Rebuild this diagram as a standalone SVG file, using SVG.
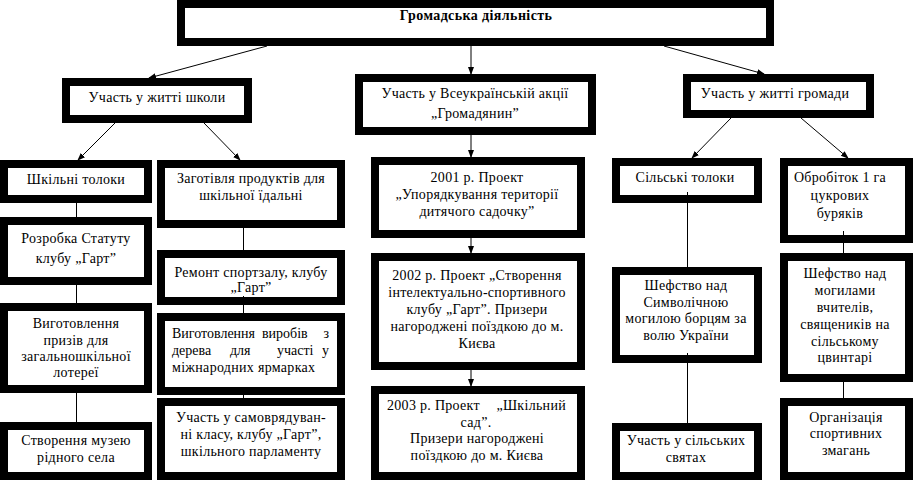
<svg xmlns="http://www.w3.org/2000/svg" width="914" height="480" viewBox="0 0 914 480">
<style>
.b{fill:#fff;stroke:#000;stroke-width:8}
text{font-family:"Liberation Serif","Times New Roman",serif;font-size:14px;fill:#000;letter-spacing:0.3px}
.c{text-anchor:middle}
.e{text-anchor:end}
.j{letter-spacing:0}
.t{font-weight:bold;font-size:14px;letter-spacing:0.4px}
.l{stroke:#000;stroke-width:1;fill:none}
.a{marker-end:url(#ah)}
</style>
<defs>
<marker id="ah" markerUnits="userSpaceOnUse" markerWidth="8" markerHeight="8" viewBox="0 0 8 8" refX="7" refY="4" orient="auto">
<path d="M0,1 L8,4 L0,7 z" fill="#000"/>
</marker>
</defs>
<rect width="914" height="480" fill="#fff"/>
<g id="n-top"><rect class="b" x="181" y="4" width="589" height="38"/><text class="c t" x="476" y="20">Громадська діяльність</text></g>
<g id="n-school"><rect class="b" x="66" y="82" width="182" height="37"/><text class="c" x="157" y="102">Участь у житті школи</text></g>
<g id="n-vseukr"><rect class="b" x="359" y="78" width="233" height="53"/><text class="c" x="475" y="98">Участь у Всеукраїнській акції</text><text class="c" x="475" y="118">„Громадянин”</text></g>
<g id="n-hromada"><rect class="b" x="687" y="78" width="183" height="36"/><text class="c" x="775" y="98">Участь у житті громади</text></g>
<g id="n-toloky"><rect class="b" x="4" y="164" width="144" height="35"/><text class="c" x="76" y="184">Шкільні толоки</text></g>
<g id="n-zahot"><rect class="b" x="161" y="164" width="180" height="60"/><text class="c" x="251" y="183">Заготівля продуктів для</text><text class="c" x="251" y="200">шкільної їдальні</text></g>
<g id="n-rozrobka"><rect class="b" x="4" y="221" width="144" height="60"/><text class="c" x="76" y="243">Розробка Статуту</text><text class="c" x="76" y="263">клубу „Гарт”</text></g>
<g id="n-remont"><rect class="b" x="161" y="254" width="180" height="47"/><text class="c" x="251" y="277">Ремонт спортзалу, клубу</text><text class="c" x="251" y="292">„Гарт”</text></g>
<g id="n-pryzy"><rect class="b" x="4" y="307" width="144" height="82"/><text class="c" x="76" y="328">Виготовлення</text><text class="c" x="76" y="345">призів для</text><text class="c" x="76" y="361">загальношкільної</text><text class="c" x="76" y="377">лотереї</text></g>
<g id="n-muzei"><rect class="b" x="4" y="426" width="144" height="50"/><text class="c" x="76" y="445">Створення музею</text><text class="c" x="76" y="462">рідного села</text></g>
<g id="n-vyroby"><rect class="b" x="161" y="317" width="180" height="74"/>
<text class="j" x="172" y="338">Виготовлення</text><text class="j" x="262" y="338">виробів</text><text class="e j" x="329" y="338">з</text>
<text class="j" x="172" y="355">дерева</text><text class="j" x="230" y="355">для</text><text class="j" x="277" y="355">участі</text><text class="e j" x="329" y="355">у</text>
<text x="172" y="372">міжнародних ярмарках</text></g>
<g id="n-samovr"><rect class="b" x="161" y="402" width="180" height="74"/><text class="c" x="251" y="422">Участь у самоврядуван-</text><text class="c" x="251" y="439">ні класу, клубу „Гарт”,</text><text class="c" x="251" y="456">шкільного парламенту</text></g>
<g id="n-2001"><rect class="b" x="375" y="161" width="206" height="73"/><text class="c" x="477" y="182">2001 р. Проект</text><text class="c" x="477" y="199">„Упорядкування території</text><text class="c" x="477" y="216">дитячого садочку”</text></g>
<g id="n-2002"><rect class="b" x="375" y="257" width="206" height="109"/><text class="c" x="477" y="280">2002 р. Проект „Створення</text><text class="c" x="477" y="297">інтелектуально-спортивного</text><text class="c" x="477" y="314">клубу  „Гарт”. Призери</text><text class="c" x="477" y="331">нагороджені поїздкою до м.</text><text class="c" x="477" y="348">Києва</text></g>
<g id="n-2003"><rect class="b" x="375" y="390" width="206" height="86"/><text x="387" y="410">2003 р. Проект</text><text class="e" x="566" y="410">„Шкільний</text><text class="c" x="476" y="427">сад”.</text><text class="c" x="477" y="443">Призери нагороджені</text><text class="c" x="477" y="460">поїздкою до м. Києва</text></g>
<g id="n-silski"><rect class="b" x="616" y="162" width="142" height="37"/><text class="c" x="685" y="182">Сільські толоки</text></g>
<g id="n-symv"><rect class="b" x="616" y="271" width="142" height="88"/><text class="c" x="686" y="290">Шефство над</text><text class="c" x="686" y="307">Символічною</text><text class="c" x="686" y="323">могилою борцям за</text><text class="c" x="686" y="340">волю України</text></g>
<g id="n-sviata"><rect class="b" x="616" y="427" width="142" height="49"/><text class="c" x="686" y="445">Участь у сільських</text><text class="c" x="686" y="462">святах</text></g>
<g id="n-obrob"><rect class="b" x="784" y="162" width="125" height="77"/><text class="c" x="840" y="182">Обробіток 1 га</text><text class="c" x="840" y="200">цукрових</text><text class="c" x="840" y="218">буряків</text></g>
<g id="n-mohyly"><rect class="b" x="784" y="257" width="125" height="121"/><text class="c" x="845" y="278">Шефство над</text><text class="c" x="845" y="295">могилами</text><text class="c" x="845" y="312">вчителів,</text><text class="c" x="845" y="329">священиків на</text><text class="c" x="845" y="346">сільському</text><text class="c" x="845" y="362">цвинтарі</text></g>
<g id="n-zmahannia"><rect class="b" x="784" y="402" width="125" height="74"/><text class="c" x="846" y="422">Організація</text><text class="c" x="846" y="438">спортивних</text><text class="c" x="846" y="455">змагань</text></g>
<g id="connectors">
<line class="l a" x1="267" y1="46" x2="149" y2="78"/>
<line class="l a" x1="471" y1="46" x2="471" y2="74"/>
<line class="l a" x1="664" y1="46" x2="764" y2="74"/>
<line class="l a" x1="115" y1="123" x2="78" y2="160"/>
<line class="l a" x1="204" y1="123" x2="240" y2="160"/>
<line class="l a" x1="471" y1="135" x2="471" y2="157"/>
<line class="l a" x1="471" y1="238" x2="471" y2="253"/>
<line class="l a" x1="471" y1="370" x2="471" y2="386"/>
<line class="l a" x1="731" y1="118" x2="692" y2="158"/>
<line class="l a" x1="801" y1="118" x2="848" y2="158"/>
<line class="l" x1="76.5" y1="203" x2="76.5" y2="217"/>
<line class="l" x1="76.5" y1="285" x2="76.5" y2="303"/>
<line class="l" x1="76.5" y1="393" x2="76.5" y2="422"/>
<line class="l" x1="243.5" y1="228" x2="243.5" y2="250"/>
<line class="l" x1="243.5" y1="296" x2="243.5" y2="313"/>
<line class="l" x1="243.5" y1="395" x2="243.5" y2="398"/>
<line class="l" x1="687.5" y1="192" x2="687.5" y2="267"/>
<line class="l" x1="687.5" y1="353" x2="687.5" y2="423"/>
<line class="l" x1="843.5" y1="231" x2="843.5" y2="253"/>
<line class="l" x1="843.5" y1="382" x2="843.5" y2="398"/>
</g>
</svg>
